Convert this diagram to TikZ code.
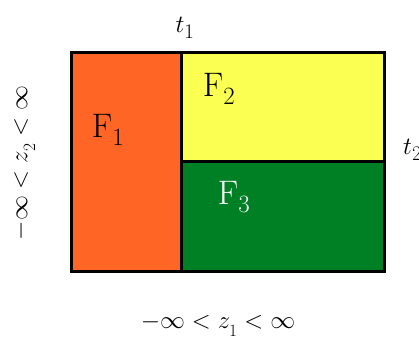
\documentclass[tikz,border=0pt]{standalone}
\usepackage{tikz}
\definecolor{fone}{RGB}{255,101,36}
\definecolor{ftwo}{RGB}{250,255,82}
\definecolor{fthree}{RGB}{0,128,36}
\tikzset{
  region/.style={draw=black, line width=3pt},
  flabel/.style={font=\fontsize{34}{40}\selectfont, inner sep=0pt},
  axlabel/.style={font=\fontsize{23}{28}\selectfont, inner sep=0pt},
  tlabel/.style={font=\fontsize{28}{32}\selectfont, inner sep=0pt}
}
\begin{document}
\begin{tikzpicture}[x=1pt,y=-1pt]
\useasboundingbox (0,0) rectangle (419,345);
\fill[fone] (71,52) rectangle (181.5,271.5);
\fill[ftwo] (181.5,52) rectangle (384,161.5);
\fill[fthree] (181.5,161.5) rectangle (384,271.5);
\draw[region] (181.5,52) -- (181.5,271.5);
\draw[region] (181.5,161.5) -- (384,161.5);
\draw[region] (71,52) rectangle (384,271.5);
\node[flabel] (F1) at (108,130) {F$_1$};
\node[flabel] (F2) at (219,89) {F$_2$};
\node[flabel, text=white] (F3) at (234,197) {F$_3$};
\node[tlabel] (t1) at (185,28) {$t_{\lower2pt\hbox{$\scriptstyle 1$}}$};
\node[tlabel, anchor=west] (t2) at (403,150) {$t_{\lower2pt\hbox{$\scriptstyle 2$}}$};
\node[axlabel] (z1) at (218,325) {$-\infty < z_{\lower4pt\hbox{$\scriptstyle 1$}} < \infty$};
\node[axlabel, rotate=90] (z2) at (24,163) {$-\infty < z_{\lower4pt\hbox{$\scriptstyle 2$}} < \infty$};
\end{tikzpicture}
\end{document}
